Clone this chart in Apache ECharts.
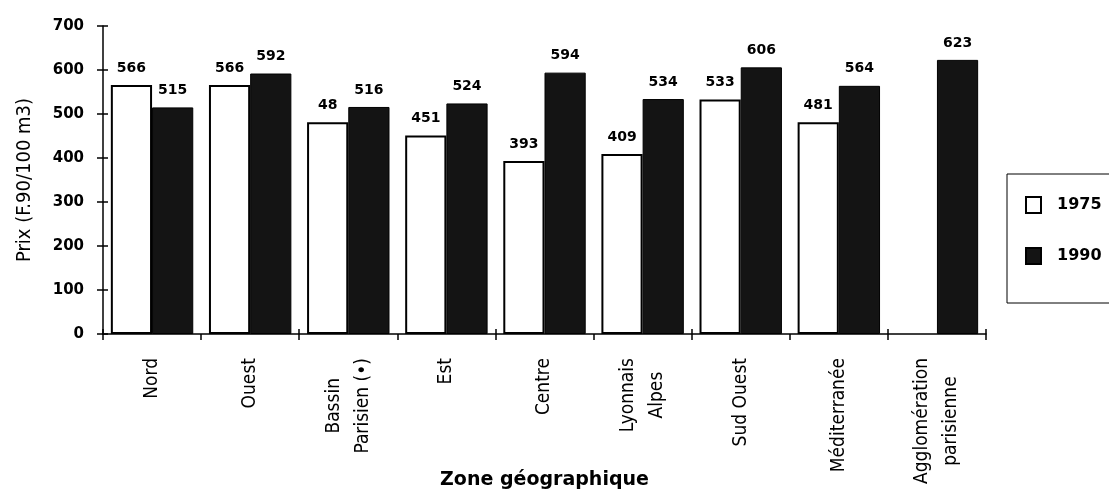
<!DOCTYPE html>
<html>
<head>
<meta charset="utf-8">
<script src="https://cdn.jsdelivr.net/npm/echarts@6/dist/echarts.min.js"></script>
<style>
html,body{margin:0;padding:0;background:#fff;}
#c{width:1109px;height:494px;}
</style>
</head>
<body>
<div id="c"></div>
<script>
const categories = ["Nord", "Ouest", "Bassin\nParisien (•)", "Est", "Centre", "Lyonnais\nAlpes", "Sud Ouest", "Méditerranée", "Agglomération\nparisienne"];
const values1975 = [566, 566, 481, 451, 393, 409, 533, 481, null];
const labels1975 = ["566", "566", "48", "451", "393", "409", "533", "481", ""];
const values1990 = [515, 592, 516, 524, 594, 534, 606, 564, 623];
const labels1990 = ["515", "592", "516", "524", "594", "534", "606", "564", "623"];
const yTicks = [0, 100, 200, 300, 400, 500, 600, 700];

const narrow = "'Liberation Sans Narrow', 'DejaVu Sans Condensed', 'Liberation Sans', sans-serif";
const boldFont = "'DejaVu Sans', sans-serif";

const chart = echarts.init(document.getElementById('c'), null, {renderer: 'canvas'});
const valueLabel = (arr) => ({
  show: true,
  position: 'top',
  distance: 10,
  color: '#000',
  fontFamily: boldFont,
  fontWeight: 'bold',
  fontSize: 14,
  formatter: p => arr[p.dataIndex]
});
chart.setOption({
  animation: false,
  backgroundColor: '#fff',
  grid: {left: 103, right: 123, top: 26, bottom: 160, containLabel: false, outerBoundsMode: 'none'},
  legend: {
    orient: 'vertical',
    left: 1007,
    top: 174,
    padding: [22, 30, 38, 18],
    itemGap: 33,
    itemWidth: 15,
    itemHeight: 16,
    icon: 'rect',
    borderColor: '#000',
    borderWidth: 1,
    textStyle: {fontFamily: boldFont, fontWeight: 'bold', fontSize: 16, lineHeight: 16, color: '#000', padding: [0, 0, 0, 11]},
    data: ['1975', '1990']
  },
  xAxis: [{
    type: 'category',
    data: categories,
    name: 'Zone géographique',
    nameLocation: 'middle',
    nameGap: 137,
    nameMoveOverlap: false,
    nameTextStyle: {fontFamily: boldFont, fontWeight: 'bold', fontSize: 19, color: '#000'},
    axisLine: {lineStyle: {color: '#000', width: 1.5}},
    axisTick: {show: true, length: 6, lineStyle: {color: '#000', width: 1.5}},
    axisLabel: {
      rotate: 90,
      margin: 24,
      interval: 0,
      color: '#000',
      fontFamily: narrow,
      fontSize: 19,
      lineHeight: 29,
      formatter: v => v.split('\n').map(s => '{c|' + s + '}').join('\n'),
      rich: {c: {align: 'center', fontFamily: narrow, fontSize: 19, lineHeight: 29, color: '#000'}}
    },
    splitLine: {show: false}
  }, {
    type: 'category',
    data: categories,
    position: 'bottom',
    axisLine: {show: false},
    axisTick: {show: true, inside: true, length: 5, lineStyle: {color: '#000', width: 1.5}},
    axisLabel: {show: false},
    splitLine: {show: false}
  }],
  yAxis: [{
    type: 'value',
    min: yTicks[0],
    max: yTicks[yTicks.length - 1],
    interval: 100,
    name: 'Prix (F.90/100 m3)',
    nameLocation: 'middle',
    nameGap: 68,
    nameMoveOverlap: false,
    nameTextStyle: {fontFamily: narrow, fontSize: 20, color: '#000'},
    axisLine: {show: true, lineStyle: {color: '#000', width: 1.5}},
    axisTick: {show: true, length: 6, lineStyle: {color: '#000', width: 1.5}},
    axisLabel: {margin: 19, color: '#000', fontFamily: boldFont, fontWeight: 'bold', fontSize: 15},
    splitLine: {show: false}
  }, {
    type: 'value',
    min: yTicks[0],
    max: yTicks[yTicks.length - 1],
    interval: 100,
    position: 'left',
    axisLine: {show: false},
    axisTick: {show: true, inside: true, length: 5, lineStyle: {color: '#000', width: 1.5}},
    axisLabel: {show: false},
    splitLine: {show: false}
  }],
  series: [{
    name: '1975',
    type: 'bar',
    data: values1975,
    barGap: '0%',
    barCategoryGap: '16%',
    itemStyle: {color: '#fff', borderColor: '#000', borderWidth: 2},
    label: valueLabel(labels1975)
  }, {
    name: '1990',
    type: 'bar',
    data: values1990,
    barGap: '0%',
    barCategoryGap: '16%',
    itemStyle: {color: '#141414', borderColor: '#000', borderWidth: 1},
    label: valueLabel(labels1990)
  }]
});
</script>
</body>
</html>
